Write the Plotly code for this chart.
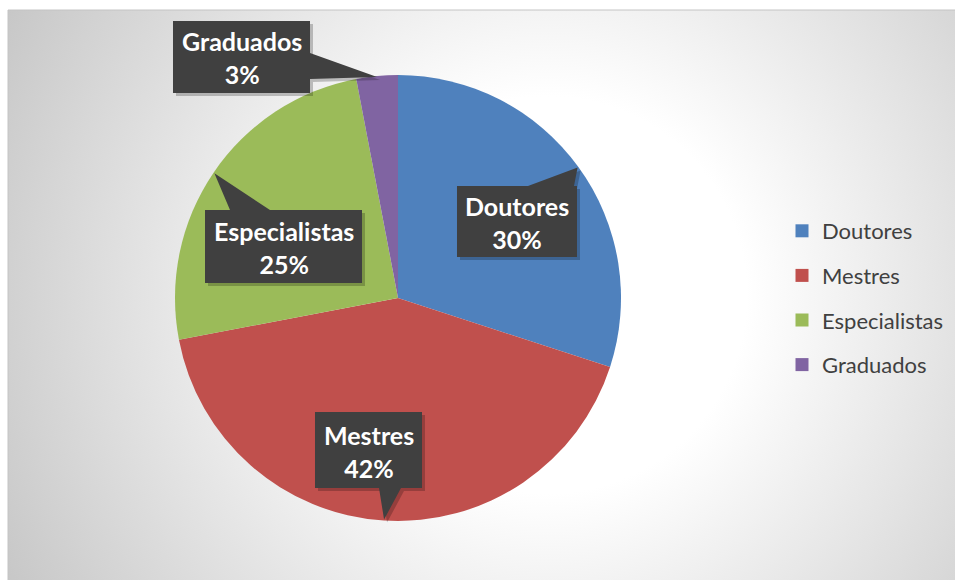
import math, base64
import plotly.graph_objects as go

W, H = 955, 580

# ---- data ----
labels = ["Doutores", "Mestres", "Especialistas", "Graduados"]
values = [30, 42, 25, 3]
colors = ["#4F81BD", "#C0504D", "#9BBB59", "#8064A2"]

# ---- layout constants (screen pixels) ----
CX, CY, R = 398, 298, 223
# callout boxes: x0, y0, x1, y1, side of pointer, base start, base end
boxes = {
    "Doutores":      (457, 186, 577, 257, "top", 528, 574),
    "Mestres":       (315, 412, 422, 488, "bottom", 379, 401),
    "Especialistas": (205, 210, 362, 283, "top", 230, 270),
    "Graduados":     (173, 21, 310, 93, "right", 53, 79),
}

def px(x):
    return x / W

def py(y):
    return 1 - y / H

total = sum(values)

# background radial gradient as an svg image
svg = f'''<svg xmlns="http://www.w3.org/2000/svg" width="947" height="570">
<defs><radialGradient id="g" gradientUnits="userSpaceOnUse" cx="540" cy="285" r="620">
<stop offset="0" stop-color="#FFFFFF"/><stop offset="0.32" stop-color="#FFFFFF"/>
<stop offset="1" stop-color="#C6C6C6"/></radialGradient></defs>
<rect width="947" height="570" fill="url(#g)"/></svg>'''
src = "data:image/svg+xml;base64," + base64.b64encode(svg.encode()).decode()

fig = go.Figure()
fig.add_trace(go.Pie(
    labels=labels, values=values, sort=False, direction="clockwise", rotation=0,
    marker=dict(colors=colors, line=dict(width=0)),
    textinfo="none", hoverinfo="label+percent", showlegend=False,
    domain=dict(x=[px(CX - R), px(CX + R)], y=[py(CY + R), py(CY - R)]),
))

for lab, col in zip(labels, colors):
    fig.add_trace(go.Scatter(
        x=[None], y=[None], mode="markers", name=lab, legendgroup=lab,
        marker=dict(symbol="square", size=13, color=col, line=dict(width=0)),
        hoverinfo="skip",
    ))

def poly_path(pts, dx=0, dy=0):
    return "M " + " L ".join(f"{px(x + dx):.5f},{py(y + dy):.5f}" for x, y in pts) + " Z"

shapes = []
annotations = []
cum = 0
for lab, v in zip(labels, values):
    mid = (cum + v / 2) / total * 2 * math.pi
    cum += v
    tx = CX + (R - 1) * math.sin(mid)
    ty = CY - (R - 1) * math.cos(mid)
    x0, y0, x1, y1, side, b0, b1 = boxes[lab]
    if side == "top":
        pts = [(x0, y0), (b0, y0), (tx, ty), (b1, y0), (x1, y0), (x1, y1), (x0, y1)]
    elif side == "bottom":
        pts = [(x0, y0), (x1, y0), (x1, y1), (b1, y1), (tx, ty), (b0, y1), (x0, y1)]
    elif side == "right":
        pts = [(x0, y0), (x1, y0), (x1, b0), (tx, ty), (x1, b1), (x1, y1), (x0, y1)]
    else:
        pts = [(x0, y0), (x1, y0), (x1, y1), (x0, y1), (x0, b1), (tx, ty), (x0, b0)]
    shapes.append(dict(type="path", xref="paper", yref="paper", path=poly_path(pts, 3, 3),
                       fillcolor="rgba(0,0,0,0.22)", line=dict(width=0)))
    shapes.append(dict(type="path", xref="paper", yref="paper", path=poly_path(pts),
                       fillcolor="#404040", line=dict(width=0)))
    pct = round(v / total * 100)
    annotations.append(dict(
        xref="paper", yref="paper", x=px((x0 + x1) / 2), y=py((y0 + y1) / 2 + 1),
        xanchor="center", yanchor="middle", showarrow=False,
        text=f"<b>{lab}</b><br><b>{pct}%</b>",
        font=dict(family="Lato", size=25, color="#FFFFFF"),
    ))

# chart area border
shapes.append(dict(type="rect", xref="paper", yref="paper", x0=px(8), y0=py(10), x1=px(W + 20), y1=py(H + 20),
                   line=dict(color="#C4C4C4", width=1), fillcolor="rgba(0,0,0,0)", layer="below"))

fig.update_layout(
    width=W, height=H, margin=dict(l=0, r=0, t=0, b=0),
    paper_bgcolor="#FFFFFF", plot_bgcolor="rgba(0,0,0,0)",
    xaxis=dict(visible=False), yaxis=dict(visible=False),
    images=[dict(source=src, xref="paper", yref="paper", x=px(8), y=py(10),
                 sizex=947 / W, sizey=570 / H, sizing="stretch", layer="below",
                 xanchor="left", yanchor="top")],
    shapes=shapes, annotations=annotations,
    legend=dict(x=px(782), y=py(210), xanchor="left", yanchor="top",
                tracegroupgap=13, font=dict(family="Lato", size=22, color="#404040"),
                bgcolor="rgba(0,0,0,0)", itemclick=False, itemdoubleclick=False),
    showlegend=True,
)

fig.write_html(
    "out.html",
    config={"displayModeBar": False},
    post_script="document.body.style.margin='0';document.body.style.overflow='hidden';",
)
